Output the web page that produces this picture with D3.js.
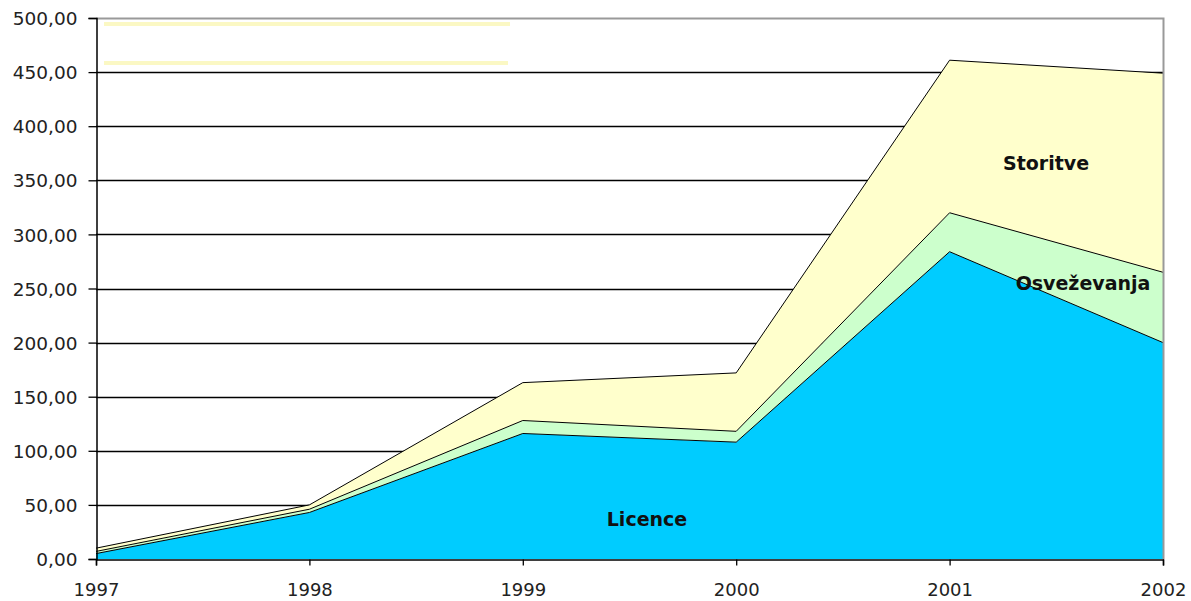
<!DOCTYPE html>
<html>
<head>
<meta charset="utf-8">
<script src="https://cdn.jsdelivr.net/npm/d3@7"></script>
<style>
  html, body { margin: 0; padding: 0; background: #fff; }
  svg { display: block; }
  text { font-family: "DejaVu Sans", Verdana, sans-serif; }
</style>
</head>
<body>
<svg id="chart" width="1191" height="601"></svg>
<script>
// Years on the x axis
const years = [1997, 1998, 1999, 2000, 2001, 2002];
// Series values (stacked, bottom to top)
const licence = [5, 43, 116, 108, 284, 200];
const osvezevanja = [2, 3, 12, 10, 36, 65];
const storitve = [3, 4, 35, 54, 141, 184];
const seriesNames = ["Licence", "Osveževanja", "Storitve"];
const seriesColors = ["#00CCFF", "#CCFFCC", "#FFFFCC"];
const yTicks = [0, 50, 100, 150, 200, 250, 300, 350, 400, 450, 500];

const svg = d3.select("#chart");
const plotLeft = 96, plotRight = 1163, plotTop = 18, plotBottom = 559;
const axisFont = "'DejaVu Sans', Verdana, sans-serif";

const x = d3.scaleLinear().domain([1997, 2002]).range([plotLeft, plotRight]);
const y = d3.scaleLinear().domain([0, 500]).range([plotBottom, plotTop]);

const rows = years.map((yr, i) => ({
  year: yr,
  Licence: licence[i],
  "Osveževanja": osvezevanja[i],
  Storitve: storitve[i]
}));
const stacked = d3.stack().keys(seriesNames)(rows);

// Horizontal gridlines
svg.append("g")
  .selectAll("line")
  .data(yTicks.filter(v => v > 0 && v < 500))
  .join("line")
  .attr("x1", plotLeft).attr("x2", plotRight)
  .attr("y1", d => Math.round(y(d)) + 0.5).attr("y2", d => Math.round(y(d)) + 0.5)
  .attr("stroke", "#000").attr("stroke-width", 1.3);

// Pale legend strips in the upper left
svg.append("rect").attr("x", 104).attr("y", 22).attr("width", 406).attr("height", 4).attr("fill", "#fbf8c4");
svg.append("rect").attr("x", 104).attr("y", 61).attr("width", 404).attr("height", 4).attr("fill", "#fbf8c4");

// Stacked areas
const area = d3.area()
  .x(d => x(d.data.year))
  .y0(d => y(d[0]))
  .y1(d => y(d[1]));
const line = d3.line()
  .x(d => x(d.data.year))
  .y(d => y(d[1]));

svg.append("g")
  .selectAll("path")
  .data(stacked)
  .join("path")
  .attr("d", area)
  .attr("fill", (d, i) => seriesColors[i]);

svg.append("g")
  .selectAll("path")
  .data(stacked)
  .join("path")
  .attr("d", line)
  .attr("fill", "none")
  .attr("stroke", "#000")
  .attr("stroke-width", 1);

// Plot frame (top and right)
svg.append("path")
  .attr("d", `M${plotLeft},${plotTop + 0.5}H${plotRight + 0.5}V${plotBottom}`)
  .attr("fill", "none").attr("stroke", "#999").attr("stroke-width", 2);

// Y axis
const yAxis = d3.axisLeft(y)
  .tickValues(yTicks)
  .tickSize(8)
  .tickPadding(11)
  .tickFormat(d => d3.format(".2f")(d).replace(".", ","));
const gy = svg.append("g").attr("transform", `translate(${plotLeft + 0.5},0)`).call(yAxis);
gy.select(".domain").attr("stroke", "#000").attr("stroke-width", 1.5);
gy.selectAll(".tick line").attr("stroke", "#000").attr("stroke-width", 1.3);
gy.selectAll(".tick text").attr("font-size", 18.5).attr("fill", "#222")
  .attr("font-family", axisFont).attr("dy", "0.36em");

// X axis
const xAxis = d3.axisBottom(x)
  .tickValues(years)
  .tickSize(6)
  .tickPadding(18)
  .tickFormat(d3.format("d"));
const gx = svg.append("g").attr("transform", `translate(0,${plotBottom + 0.5})`).call(xAxis);
gx.select(".domain").attr("stroke", "#000").attr("stroke-width", 1.5);
gx.selectAll(".tick line").attr("stroke", "#000").attr("stroke-width", 1.3);
gx.selectAll(".tick text").attr("font-size", 18).attr("fill", "#222")
  .attr("font-family", axisFont);

// Series labels
const labels = [
  { text: "Licence", x: 647, y: 526 },
  { text: "Storitve", x: 1046, y: 170 },
  { text: "Osveževanja", x: 1083, y: 290 }
];
svg.append("g")
  .selectAll("text")
  .data(labels)
  .join("text")
  .attr("x", d => d.x).attr("y", d => d.y)
  .attr("text-anchor", "middle")
  .attr("font-size", 19).attr("font-weight", "bold")
  .attr("fill", "#111")
  .text(d => d.text);
</script>
</body>
</html>
